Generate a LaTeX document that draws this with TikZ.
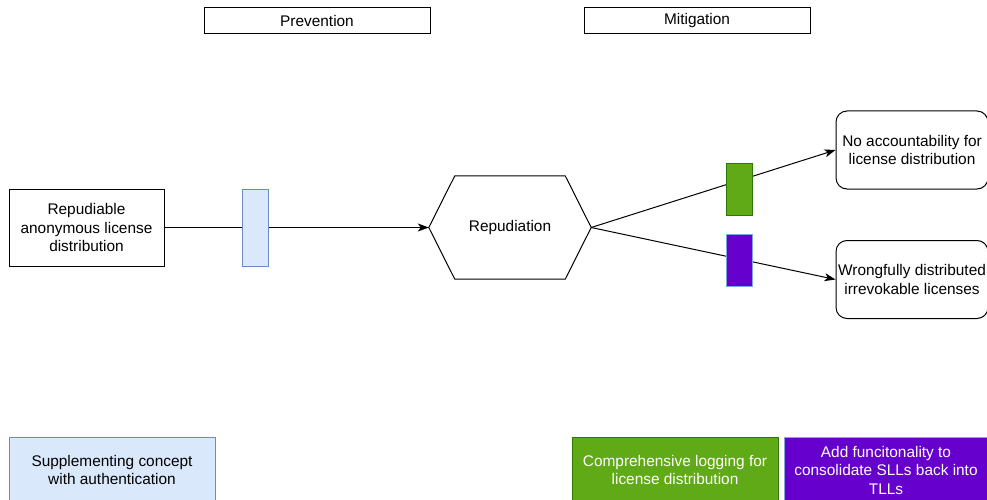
\documentclass[tikz,border=0pt]{standalone}
\usepackage{fontspec}
\setmainfont{Liberation Sans}
\usetikzlibrary{arrows.meta}
\definecolor{prevfill}{HTML}{DAE8FC}
\definecolor{prevline}{HTML}{6C8EBF}
\definecolor{logfill}{HTML}{60A917}
\definecolor{logline}{HTML}{2D7600}
\definecolor{consfill}{HTML}{6600CC}
\definecolor{consline}{HTML}{7EA6E0}
\tikzset{
  every node/.style={font=\fontsize{15.4}{18.5}\selectfont, align=center, inner sep=0pt},
  header/.style={draw, line width=1pt, minimum width=226pt, minimum height=26pt},
  plainbox/.style={draw, line width=1pt, minimum width=155pt, minimum height=77pt},
  outcome/.style={draw, line width=1pt, rounded corners=11pt, minimum width=152pt, minimum height=78pt},
  barrier/.style={draw, line width=1pt, minimum width=26pt, minimum height=52pt},
  measure/.style={draw, line width=1pt, minimum width=206pt, minimum height=66pt},
  link/.style={line width=1pt, -{Stealth[length=11pt,width=8pt,inset=3pt]}},
}
\begin{document}
\begin{tikzpicture}[x=1pt,y=-1pt]
\useasboundingbox (0,0) rectangle (987,500);
\begin{scope}
\clip (0,0) rectangle (987,500);

% column headers
\node[header] (prev) at (317,21) {Prevention};
\node[header] (miti) at (697,21) {Mitigation};

% threat source and central event
\node[plainbox] (src) at (86.5,227.5) {Repudiable\\anonymous license\\distribution};
\node[minimum width=162pt, minimum height=103pt] (hex) at (510,227.5) {Repudiation};
\draw[line width=1pt] (hex.west) -- ([xshift=26pt]hex.north west) -- ([xshift=-26pt]hex.north east)
  -- (hex.east) -- ([xshift=-26pt]hex.south east) -- ([xshift=26pt]hex.south west) -- cycle;

% consequences
\node[outcome] (acc) at (912,150) {No accountability for\\license distribution};
\node[outcome] (wrong) at (912,279.5) {Wrongfully distributed\\irrevokable licenses};

% connectors
\draw[link] (src.east) -- (hex.west);
\draw[link] (hex.east) -- (acc.west);
\draw[link] (hex.east) -- (wrong.west);

% barriers on the connectors
\node[barrier, fill=prevfill, draw=prevline, minimum height=77pt] (b1) at (255,227.5) {};
\node[barrier, fill=logfill, draw=logline] (b2) at (739,189) {};
\node[barrier, fill=consfill, draw=consline] (b3) at (739,260) {};

% legend of measures
\node[measure, fill=prevfill, draw=prevline] (m1) at (112,470) {Supplementing concept\\with authentication};
\node[measure, fill=logfill, draw=logline, text=white] (m2) at (675,470) {Comprehensive logging for\\license distribution};
\node[measure, fill=consfill, draw=consline, text=white, minimum width=204pt] (m3) at (886,470) {Add funcitonality to\\consolidate SLLs back into\\TLLs};
\end{scope}
\end{tikzpicture}
\end{document}
